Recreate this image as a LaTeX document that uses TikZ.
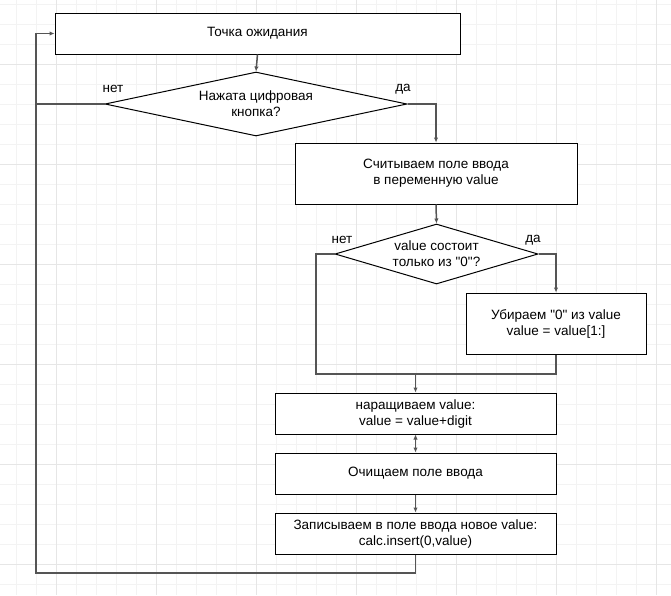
\documentclass[tikz,border=0pt]{standalone}
\usepackage{fontspec}
\setmainfont{Liberation Sans}
\usetikzlibrary{shapes.geometric,arrows.meta}
\definecolor{gridminor}{HTML}{F3F3F3}
\definecolor{gridmajor}{HTML}{E6E6E6}
\definecolor{conn}{HTML}{555555}
\newcommand{\dq}{\XeTeXglyph\numexpr\XeTeXcharglyph"22\relax}
\tikzset{
  boxnode/.style={draw=black,line width=1pt,fill=white,rectangle,inner sep=0pt,align=center,font=\fontsize{13.5}{16}\selectfont},
  decision/.style={draw=black,line width=1pt,fill=white,diamond,inner sep=0pt,align=center,font=\fontsize{13.5}{16}\selectfont},
  conline/.style={draw=conn,line width=1.5pt},
  arr/.style={conline,-{Latex[length=5pt,width=4.5pt]}},
  lbl/.style={font=\fontsize{13.5}{16}\selectfont,inner sep=0pt}
}
\begin{document}
\begin{tikzpicture}[x=1pt,y=-1pt]
\useasboundingbox (0,0) rectangle (671,595);
\fill[white] (0,0) rectangle (671,595);
% grid
\foreach \gx in {16,36,...,670} {\draw[gridminor,line width=1pt] (\gx,0) -- (\gx,595);}
\foreach \gy in {4,24,...,594} {\draw[gridminor,line width=1pt] (0,\gy) -- (671,\gy);}
\foreach \gx in {56,156,...,670} {\draw[gridmajor,line width=1pt] (\gx,0) -- (\gx,595);}
\foreach \gy in {64,164,...,594} {\draw[gridmajor,line width=1pt] (0,\gy) -- (671,\gy);}

% nodes
\node[boxnode,minimum width=405pt,minimum height=41pt] (b1) at (257.5,33.5) {Точка ожидания};
\node[decision,aspect=4.7,minimum width=302pt,minimum height=64pt] (d1) at (256,104) {Нажата цифровая\\кнопка?};
\node[boxnode,minimum width=282pt,minimum height=61pt] (b2) at (436,173.5) {Считываем поле ввода\\в переменную value};
\node[decision,aspect=3.4,minimum width=203pt,minimum height=60pt] (d2) at (436.5,254) {value состоит\\только из \dq0\dq?};
\node[boxnode,minimum width=180pt,minimum height=61pt] (b3) at (556,323.5) {Убираем \dq0\dq\ из value\\value = value[1:]};
\node[boxnode,minimum width=281pt,minimum height=41pt] (b4) at (415.5,413.5) {наращиваем value:\\value = value+digit};
\node[boxnode,minimum width=281pt,minimum height=41pt] (b5) at (415.5,473.5) {Очищаем поле ввода};
\node[boxnode,minimum width=281pt,minimum height=41pt] (b6) at (415.5,533.5) {Записываем в поле ввода новое value:\\calc.insert(0,value)};

\coordinate (loopL) at (36,573);
\coordinate (loopR) at (b6.south |- loopL);
\coordinate (topL) at (36,33.5);
\coordinate (d1L) at (36,104);
\coordinate (d1R) at (436,104);
\coordinate (d2L) at (316,254);
\coordinate (d2R) at (556,254);
\coordinate (mergeL) at (316,374);
\coordinate (mergeR) at (556,374);
\coordinate (mergeM) at (415.5,374);

% connectors
\draw[arr] (b1.south) -- (d1.north);
\draw[arr] (d1.east) -- (d1R) -- (b2.north);
\draw[conline] (d1.west) -- (d1L);
\draw[arr] (b6.south) -- (loopR) -- (loopL) -- (topL) -- (b1.west);
\draw[arr] (b2.south) -- (d2.north);
\draw[arr] (d2.east) -- (d2R) -- (b3.north);
\draw[conline] (d2.west) -- (d2L) -- (mergeL) -- (mergeR) -- (b3.south);
\draw[arr] (mergeM) -- (b4.north);
\draw[conline,{Latex[length=5pt,width=4.5pt]}-{Latex[length=5pt,width=4.5pt]}] (b4.south) -- (b5.north);
\draw[arr] (b5.south) -- (b6.north);

% labels
\node[lbl] (l1) at (113,89) {нет};
\node[lbl] (l2) at (403,89) {да};
\node[lbl] (l3) at (342,240) {нет};
\node[lbl] (l4) at (533,240) {да};
\end{tikzpicture}
\end{document}
